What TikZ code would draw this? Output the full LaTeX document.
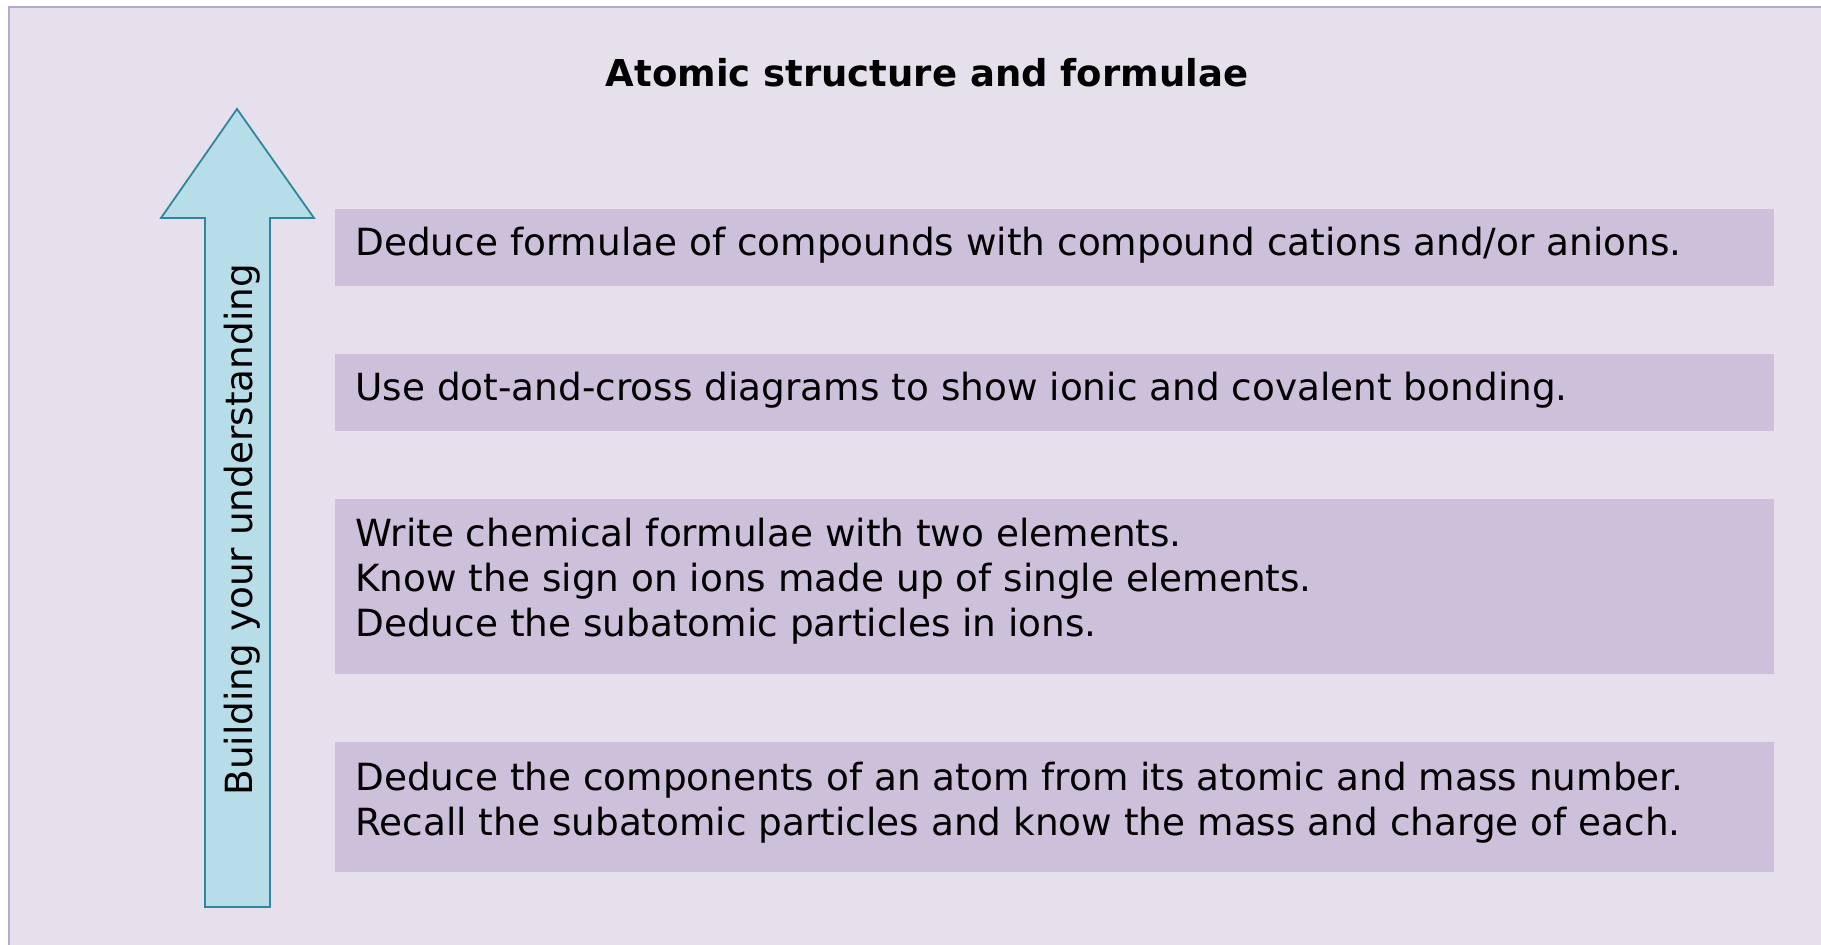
\documentclass[tikz,border=0pt]{standalone}
\usepackage{fontspec}
\setmainfont{DejaVu Sans}
\newcommand{\Px}{0.5pt}
\newcommand{\BoxL}{335}
\newcommand{\BoxR}{1774}
\newcommand{\TextX}{355}
\definecolor{panel}{HTML}{E6E0EC}
\definecolor{panelline}{HTML}{B8A8CC}
\definecolor{lilac}{HTML}{CCC0DA}
\definecolor{sky}{HTML}{B7DDE8}
\definecolor{teal}{HTML}{31859C}

\tikzset{
  steptext/.style={anchor=base west, inner sep=0pt, align=left,
    font=\fontsize{18.7pt}{22.5pt}\selectfont},
}

\begin{document}
\begin{tikzpicture}[x=\Px,y=-\Px, line join=miter]

  \useasboundingbox (0,0) rectangle (1821,945);
  \clip (0,0) rectangle (1821,945);

  % ---- panel, running off the right and bottom ----------------------------
  \fill[white] (0,0) rectangle (1821,945);
  \fill[panel,draw=panelline,line width=1pt] (9,7) rectangle (1850,980);

  \node[font=\fontsize{18.5pt}{22.5pt}\selectfont\bfseries, anchor=base, inner sep=0pt]
    (title) at (927,87) {Atomic structure and formulae};

  % ---- the arrow ----------------------------------------------------------
  \fill[sky,draw=teal,line width=0.9pt]
    (205,907) -- (205,218) -- (161,218) -- (237,109) -- (314,218)
    -- (270,218) -- (270,907) -- cycle;
  \node[steptext, rotate=90] (climb) at (252,796) {Building your understanding};

  % ---- the steps, top one first (nodes sit on their last baseline) --------
  \fill[lilac] (\BoxL,209) rectangle (\BoxR,286);
  \node[steptext] (s4) at (\TextX,256)
    {Deduce formulae of compounds with compound cations and/or anions.};

  \fill[lilac] (\BoxL,354) rectangle (\BoxR,431);
  \node[steptext] (s3) at (\TextX,401)
    {Use dot-and-cross diagrams to show ionic and covalent bonding.};

  \fill[lilac] (\BoxL,499) rectangle (\BoxR,674);
  \node[steptext] (s2) at (\TextX,637)
    {Write chemical formulae with two elements.\\
     Know the sign on ions made up of single elements.\\
     Deduce the subatomic particles in ions.};

  \fill[lilac] (\BoxL,742) rectangle (\BoxR,872);
  \node[steptext] (s1) at (\TextX,835)
    {Deduce the components of an atom from its atomic and mass number.\\
     Recall the subatomic particles and know the mass and charge of each.};

\end{tikzpicture}
\end{document}
